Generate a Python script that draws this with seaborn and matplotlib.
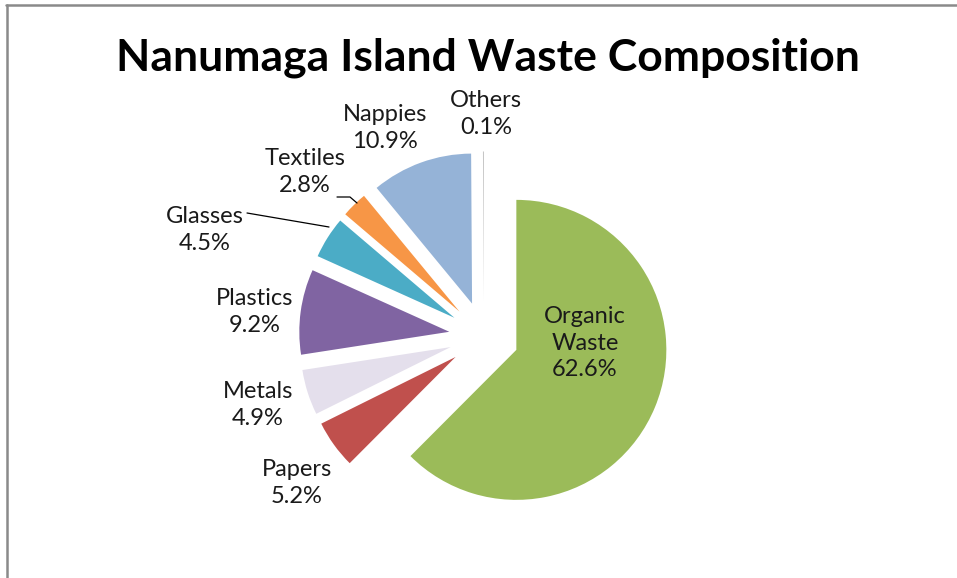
import matplotlib
matplotlib.use("Agg")
import matplotlib.pyplot as plt
from matplotlib.lines import Line2D
import seaborn as sns

sns.set_theme(style="white")
plt.rcParams["font.family"] = ["Lato", "DejaVu Sans"]

# Waste categories, clockwise from 12 o'clock
categories = ["Organic\nWaste", "Papers", "Metals", "Plastics", "Glasses",
              "Textiles", "Nappies", "Others"]
shares = [62.6, 5.2, 4.9, 9.2, 4.5, 2.8, 10.9, 0.1]
colors = ["#9BBB59", "#C0504D", "#E4DFEC", "#8064A2", "#4BACC6",
          "#F79646", "#95B3D7", "#C0C0C0"]
palette = sns.color_palette(colors)

W, H = 957, 578
fig = plt.figure(figsize=(W / 100, H / 100), dpi=100)
ax = fig.add_axes([0, 0, 1, 1])

cx, cy, r = 484, H - 336.5, 150
explode = [35] * len(shares)
wedges, _ = ax.pie(shares, colors=palette, startangle=90, counterclock=False,
                   explode=explode, center=(cx, cy), radius=r,
                   wedgeprops=dict(linewidth=0), frame=True)
ax.set_xlim(0, W)
ax.set_ylim(0, H)
ax.set_aspect("equal")
ax.axis("off")

labels = [f"{c}\n{v:.1f}%" for c, v in zip(categories, shares)]
# label anchor points (pixel coords from top-left)
label_pos = [(585, 343), (297, 483), (258, 405), (255, 312), (205, 230),
             (305, 172), (385, 128), (486, 114)]
for text, (x, y) in zip(labels, label_pos):
    ax.text(x, H - y, text, ha="center", va="center", fontsize=17,
            color="#1a1a1a", linespacing=1.3)

# leader lines for the small upper-left slices
leaders = [([247, 329], [213, 227]), ([337, 350, 357], [197, 197, 203])]
for xs, ys in leaders:
    ax.plot(xs, [H - y for y in ys], color="black", lw=0.9)

ax.text(488, H - 58, "Nanumaga Island Waste Composition", ha="center",
        va="center", fontsize=32, fontweight="bold", color="black")

# chart frame (top and left edges)
fig.add_artist(Line2D([6 / W, 1], [1 - 4.5 / H, 1 - 4.5 / H],
                      transform=fig.transFigure, color="#8a8a8a", lw=1.8))
fig.add_artist(Line2D([6.5 / W, 6.5 / W], [0, 1 - 4.5 / H],
                      transform=fig.transFigure, color="#8a8a8a", lw=1.8))

fig.savefig("out.png", dpi=100, facecolor="white")
